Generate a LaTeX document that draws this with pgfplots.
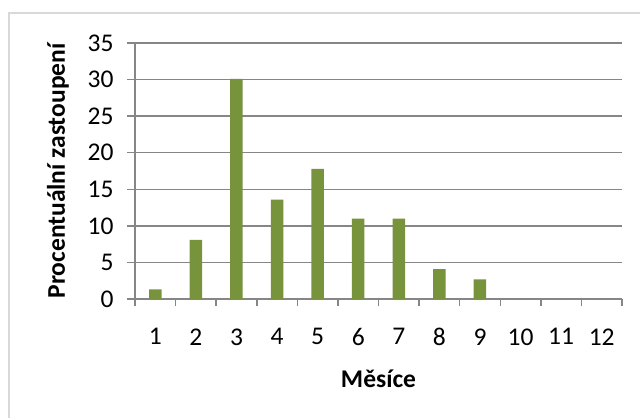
\documentclass[border=0pt]{standalone}
\usepackage{pgfplots}
\pgfplotsset{compat=1.18}
\usepackage{fontspec}
\setmainfont{Carlito}
\definecolor{barGreen}{HTML}{77933C}
\definecolor{gridGray}{HTML}{868686}
\definecolor{frameGray}{HTML}{D9D9D9}
\begin{document}
\begin{tikzpicture}[x=1bp,y=1bp]
  \useasboundingbox (0,0) rectangle (640,417);
  \clip (0,0) rectangle (640,417);
  % chart frame
  \draw[frameGray, line width=1.8bp] (9,-10) -- (9,404) -- (650,404);
  \begin{axis}[
    at={(135bp,118bp)}, anchor=south west,
    scale only axis, width=487bp, height=256bp,
    xmin=0.5, xmax=12.5, ymin=0, ymax=35,
    xtick={1,...,12}, major x tick style={draw=none},
    minor xtick={0.5,1.5,...,12.5},
    ytick={0,5,...,35},
    tick align=outside,
    minor tick length=7bp, major tick length=8bp,
    ymajorgrids,
    grid style={gridGray, line width=1.5bp},
    axis x line*=bottom, axis y line*=left,
    axis line style={gridGray, line width=1.5bp, -},
    every tick/.style={gridGray, line width=1.5bp},
    tick label style={font=\fontsize{25.5bp}{29bp}\selectfont, text=black},
    /pgf/number format/assume math mode=true,
    xticklabel style={yshift=-18bp},
    yticklabel style={xshift=-10bp},
    xlabel={Měsíce},
    ylabel={Procentuální zastoupení},
    label style={font=\fontsize{25.5bp}{29bp}\selectfont\bfseries},
    xlabel style={yshift=-17bp},
    ylabel style={yshift=12bp},
    clip=false,
  ]
    \addplot[ybar, bar width=12.5bp, fill=barGreen, draw=none] coordinates {
      (1,1.3) (2,8.1) (3,30.1) (4,13.6) (5,17.8) (6,11.0)
      (7,11.0) (8,4.1) (9,2.7) (10,0) (11,0) (12,0)
    };
  \end{axis}
\end{tikzpicture}
\end{document}
